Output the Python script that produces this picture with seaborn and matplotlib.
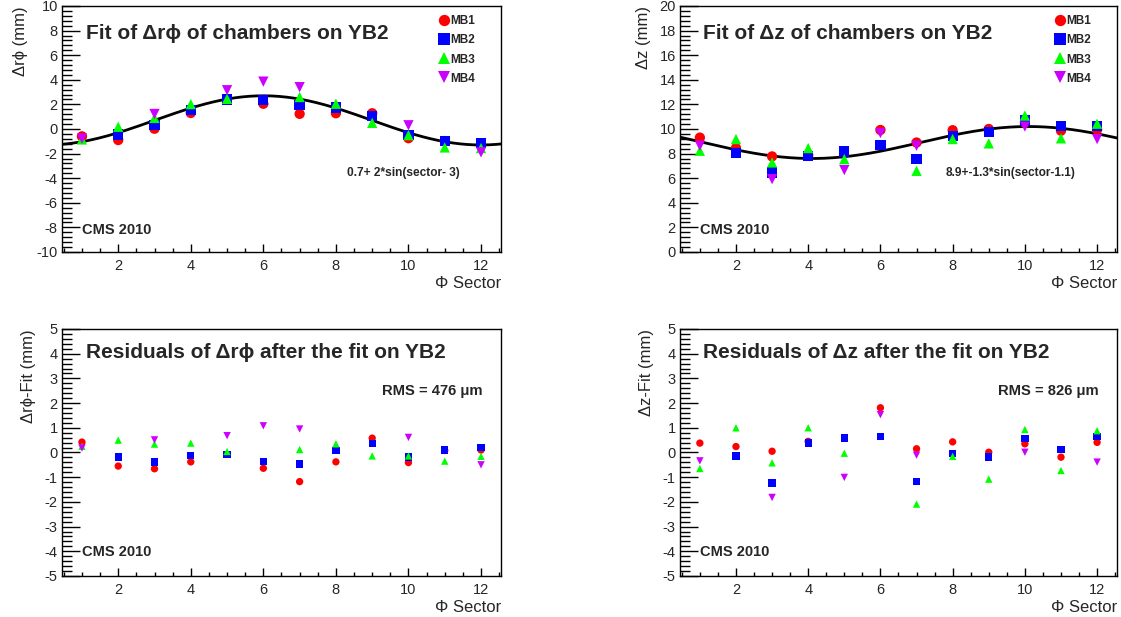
import numpy as np
import pandas as pd
import matplotlib
matplotlib.use("Agg")
import matplotlib.pyplot as plt
import seaborn as sns

# ---------------------------------------------------------
# Data (NaN = chamber not shown in that sector)
# ---------------------------------------------------------
nan = np.nan
sectors = list(range(1, 13))
chambers = ["MB1", "MB2", "MB3", "MB4"]

# top-left: delta r-phi (mm)
rphi_mb1 = [-0.6, -0.9, 0.02, 1.3, nan, 2.05, 1.23, 1.28, 1.28, -0.75, -0.98, -1.2]
rphi_mb2 = [nan, -0.45, 0.3, 1.55, 2.4, 2.38, 1.93, 1.75, 1.05, -0.5, -0.95, -1.12]
rphi_mb3 = [-0.85, 0.18, 0.9, 2.02, 2.45, nan, 2.6, 2.05, 0.5, -0.5, -1.5, -1.55]
rphi_mb4 = [-0.78, nan, 1.22, nan, 3.15, 3.85, 3.4, nan, nan, 0.3, nan, -1.9]

# top-right: delta z (mm)
z_mb1 = [9.3, 8.45, 7.77, 7.88, nan, 9.92, 8.9, 9.9, 10.0, 10.5, 9.86, 9.95]
z_mb2 = [nan, 8.04, 6.47, 7.83, 8.18, 8.72, 7.55, 9.45, 9.73, 10.68, 10.22, 10.24]
z_mb3 = [8.23, 9.18, 7.28, 8.45, 7.55, nan, 6.6, 9.18, 8.83, 11.09, 9.24, 10.43]
z_mb4 = [8.64, nan, 5.92, nan, 6.66, 9.67, 8.64, nan, nan, 10.2, nan, 9.18]

# bottom-left: residuals of delta r-phi (mm)
res_rphi_mb1 = [0.42, -0.55, -0.66, -0.38, nan, -0.64, -1.18, -0.38, 0.58, -0.41, 0.08, 0.1]
res_rphi_mb2 = [nan, -0.18, -0.39, -0.12, -0.08, -0.36, -0.46, 0.08, 0.36, -0.19, 0.1, 0.2]
res_rphi_mb3 = [0.25, 0.5, 0.34, 0.38, 0.04, nan, 0.12, 0.35, -0.14, -0.14, -0.35, -0.16]
res_rphi_mb4 = [0.18, nan, 0.51, nan, 0.68, 1.08, 0.95, nan, nan, 0.61, nan, -0.5]

# bottom-right: residuals of delta z (mm)
res_z_mb1 = [0.38, 0.24, 0.05, 0.45, nan, 1.81, 0.15, 0.43, 0.01, 0.35, -0.19, 0.41]
res_z_mb2 = [nan, -0.14, -1.24, 0.38, 0.58, 0.65, -1.18, -0.03, -0.18, 0.57, 0.12, 0.64]
res_z_mb3 = [-0.65, 1.0, -0.42, 1.0, -0.03, nan, -2.09, -0.16, -1.08, 0.93, -0.73, 0.88]
res_z_mb4 = [-0.34, nan, -1.82, nan, -1.01, 1.53, -0.11, nan, nan, 0.01, nan, -0.39]

# fit parameters: a + b*sin(phi(sector) - phi(c)), one sector = 30 degrees
fit_rphi = (0.7, 2.0, 3.0)
fit_z = (8.9, -1.3, 1.1)

colors = {"MB1": "#ff0000", "MB2": "#0000ff", "MB3": "#00ff00", "MB4": "#cc00ff"}
markers = {"MB1": "o", "MB2": "s", "MB3": "^", "MB4": "v"}


def long_df(series):
    # turn the four per-chamber lists into one long table for seaborn
    parts = []
    for name, vals in zip(chambers, series):
        parts.append(pd.DataFrame({"sector": sectors, "value": vals, "chamber": name}))
    return pd.concat(parts, ignore_index=True).dropna()


def fit_df(params):
    a, b, c = params
    x = np.linspace(0.45, 12.55, 300)
    return pd.DataFrame({"sector": x, "fit": a + b * np.sin((x - c) * np.pi / 6)})


sns.set_style("white")
plt.rcParams["font.family"] = ["Liberation Sans", "DejaVu Sans"]
plt.rcParams["xtick.direction"] = "in"
plt.rcParams["ytick.direction"] = "in"
plt.rcParams["axes.unicode_minus"] = False

fig = plt.figure(figsize=(11.21, 6.17), dpi=100)
ax_tl = fig.add_axes([0.0553, 0.5916, 0.3916, 0.3987])
ax_tr = fig.add_axes([0.6066, 0.5916, 0.3898, 0.3987])
ax_bl = fig.add_axes([0.0553, 0.0665, 0.3916, 0.4003])
ax_br = fig.add_axes([0.6066, 0.0665, 0.3898, 0.4003])


def style_axes(ax, ylim, ymajor, yminor, ylabel):
    ax.set_xlim(0.45, 12.55)
    ax.set_ylim(*ylim)
    ax.set_xticks(range(2, 13, 2))
    ax.set_xticks(np.arange(0.5, 12.6, 0.5), minor=True)
    ax.set_yticks(np.arange(ylim[0], ylim[1] + 0.01, ymajor))
    ax.set_yticks(np.arange(ylim[0], ylim[1] + 0.01, yminor), minor=True)
    ax.tick_params(which="both", bottom=True, left=True, top=False, right=False, color="black")
    ax.tick_params(axis="x", which="major", length=6, width=1, labelsize=10.5, pad=5)
    ax.tick_params(axis="x", which="minor", length=3, width=1)
    ax.tick_params(axis="y", which="major", length=13, width=1, labelsize=10.5, pad=3)
    ax.tick_params(axis="y", which="minor", length=7, width=1)
    ax.set_xlabel("Φ Sector", loc="right", fontsize=12, labelpad=2)
    ax.set_ylabel(ylabel, loc="top", fontsize=12, labelpad=6)
    for sp in ax.spines.values():
        sp.set_color("black")
        sp.set_linewidth(1.0)


def draw_points(ax, series, size, show_legend):
    sns.scatterplot(data=long_df(series), x="sector", y="value", hue="chamber", style="chamber",
                    hue_order=chambers, style_order=chambers, palette=colors, markers=markers,
                    s=size, linewidth=0, ax=ax, legend=show_legend, zorder=3)
    if show_legend:
        handles, labels = ax.get_legend_handles_labels()
        ax.legend(handles, labels, loc="upper right", bbox_to_anchor=(0.965, 1.005),
                  frameon=False, prop={"weight": "bold", "size": 8.5},
                  handletextpad=-0.1, labelspacing=0.6, handlelength=1.2, markerscale=1.1)


# ---- top left ----
sns.lineplot(data=fit_df(fit_rphi), x="sector", y="fit", color="black", linewidth=2, ax=ax_tl, zorder=2)
draw_points(ax_tl, [rphi_mb1, rphi_mb2, rphi_mb3, rphi_mb4], 55, True)
style_axes(ax_tl, (-10, 10), 2, 0.4, "Δrϕ (mm)")
ax_tl.text(0.055, 0.89, "Fit of Δrϕ of chambers on YB2", transform=ax_tl.transAxes,
           fontsize=15, fontweight="bold", va="center")
ax_tl.text(0.905, 0.32, "0.7+ 2*sin(sector- 3)", transform=ax_tl.transAxes,
           fontsize=8.6, fontweight="bold", ha="right", va="center")
ax_tl.text(0.046, 0.09, "CMS 2010", transform=ax_tl.transAxes,
           fontsize=10.5, fontweight="bold", va="center")

# ---- top right ----
sns.lineplot(data=fit_df(fit_z), x="sector", y="fit", color="black", linewidth=2, ax=ax_tr, zorder=2)
draw_points(ax_tr, [z_mb1, z_mb2, z_mb3, z_mb4], 55, True)
style_axes(ax_tr, (0, 20), 2, 0.4, "Δz (mm)")
ax_tr.text(0.053, 0.89, "Fit of Δz of chambers on YB2", transform=ax_tr.transAxes,
           fontsize=15, fontweight="bold", va="center")
ax_tr.text(0.905, 0.32, "8.9+-1.3*sin(sector-1.1)", transform=ax_tr.transAxes,
           fontsize=8.6, fontweight="bold", ha="right", va="center")
ax_tr.text(0.046, 0.09, "CMS 2010", transform=ax_tr.transAxes,
           fontsize=10.5, fontweight="bold", va="center")

# ---- bottom left ----
draw_points(ax_bl, [res_rphi_mb1, res_rphi_mb2, res_rphi_mb3, res_rphi_mb4], 28, False)
style_axes(ax_bl, (-5, 5), 1, 0.2, "Δrϕ-Fit (mm)")
ax_bl.text(0.055, 0.903, "Residuals of Δrϕ after the fit on YB2", transform=ax_bl.transAxes,
           fontsize=15, fontweight="bold", va="center")
ax_bl.text(0.957, 0.75, "RMS = 476 μm", transform=ax_bl.transAxes,
           fontsize=10.6, fontweight="bold", ha="right", va="center")
ax_bl.text(0.046, 0.098, "CMS 2010", transform=ax_bl.transAxes,
           fontsize=10.5, fontweight="bold", va="center")

# ---- bottom right ----
draw_points(ax_br, [res_z_mb1, res_z_mb2, res_z_mb3, res_z_mb4], 28, False)
style_axes(ax_br, (-5, 5), 1, 0.2, "Δz-Fit (mm)")
ax_br.text(0.053, 0.903, "Residuals of Δz after the fit on YB2", transform=ax_br.transAxes,
           fontsize=15, fontweight="bold", va="center")
ax_br.text(0.957, 0.75, "RMS = 826 μm", transform=ax_br.transAxes,
           fontsize=10.6, fontweight="bold", ha="right", va="center")
ax_br.text(0.046, 0.098, "CMS 2010", transform=ax_br.transAxes,
           fontsize=10.5, fontweight="bold", va="center")

plt.savefig("out.png", dpi=100)
plt.close()
